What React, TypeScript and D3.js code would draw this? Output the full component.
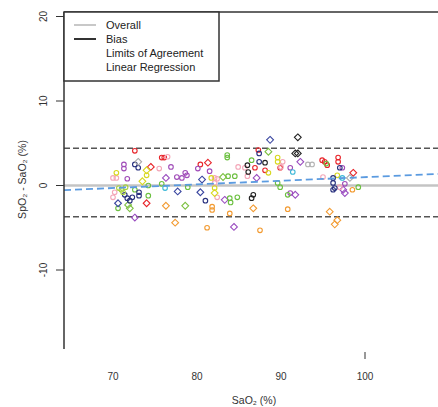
import React from 'react';
import * as d3 from 'd3';

// each subject: [SaO2, difference]
const redCircles = [[72.6, 4.1], [75.8, 3.3], [76.1, 3.3], [87.3, 4.2], [80.4, 2.5], [86.9, 2.1], [88.1, 1.8], [89.9, 2.1], [94.9, 3.0], [95.2, 2.8], [95.5, 2.4], [96.8, 3.3], [96.8, 2.8]];
const redDiamonds = [[74.5, 2.2], [74.0, -2.1], [81.3, 2.7], [98.6, 1.5]];
const purpleCircles = [[71.3, 2.5], [71.3, 2.0], [71.7, 0.8], [76.9, 2.2], [77.6, 1.0], [80.1, 2.0], [78.2, 0.9], [78.8, 1.2], [81.5, 1.7], [78.6, 1.5], [91.1, 2.1], [97.3, 2.1], [97.6, 0.2], [91.1, -0.9]];
const purpleDiamonds = [[76.3, 0.9], [72.6, -3.8], [87.1, 0.9], [83.3, -1.7], [84.4, -4.9], [92.3, 2.8], [97.4, -0.5], [97.6, -0.9], [91.7, -1.1]];
const pinkCircles = [[70.0, 0.9], [70.4, 0.9], [76.5, 3.4], [75.5, 2.0], [70.0, -1.4], [70.2, -0.8], [82.1, 0.9], [82.1, 0.3], [84.9, 2.2], [85.7, 2.1], [86.0, 1.1], [82.4, -1.4], [90.2, 2.8], [90.0, 2.2], [95.0, 1.0], [97.0, -0.2], [82.4, 0.8]];
const yellowCircles = [[70.4, 1.5], [74.0, 1.2], [81.7, 0.9], [82.1, -0.3], [89.6, 3.3], [89.6, 2.8], [88.5, 1.5], [96.7, 1.2]];
const yellowDiamonds = [[74.0, 1.8], [73.5, 0.5], [82.1, -0.9]];
const greenCircles = [[75.8, 0.2], [72.6, -0.5], [74.2, -1.2], [70.6, -2.7], [74.2, 0.0], [83.6, 3.6], [83.6, 3.3], [83.7, 1.1], [84.5, 1.1], [86.5, 3.0], [78.9, -0.2], [83.9, -1.5], [84.8, -1.4], [95.4, 2.6], [99.2, -0.2], [89.9, -0.2], [89.6, 0.3], [90.8, -1.1], [84.0, -2.0]];
const greenDiamonds = [[71.8, -2.3], [72.0, -2.7], [83.1, 1.0], [78.6, -2.4], [88.5, 4.0]];
const navyCircles = [[72.6, 2.5], [73.0, 2.1], [73.1, -0.8], [73.1, -1.2], [71.4, -1.1], [71.7, -1.5], [72.0, -1.8], [72.3, -1.4], [87.4, 3.8], [87.4, 2.8], [81.0, -1.8], [97.0, 2.1], [96.2, 0.9], [96.2, 0.3], [96.4, -0.3], [96.2, -0.5]];
const navyDiamonds = [[77.7, -0.7], [70.6, -2.1], [88.7, 5.4], [80.6, 0.7], [80.4, -0.8]];
const grayDiamonds = [[73.0, 2.8], [98.2, 0.9]];
const grayCircles = [[93.2, 2.5], [93.7, 2.5]];
const blackCircles = [[86.0, 2.4], [86.1, 1.6], [86.7, -1.1], [86.5, -1.5], [88.1, 2.7]];
const blackDiamonds = [[92.0, 5.7], [91.7, 3.8], [92.0, 3.8]];
const orangeCircles = [[81.8, -2.5], [81.8, -2.9], [83.9, -3.3], [81.2, -5.0], [87.5, -5.3], [90.8, -2.8], [98.5, -0.5]];
const orangeDiamonds = [[76.3, -2.4], [77.4, -4.4], [86.7, -2.7], [95.8, -3.1], [96.7, -4.1], [96.4, -4.6]];
const cyanCircles = [[76.2, -0.3], [91.4, 1.6], [97.3, 0.9]];
const limeCircles = [[70.7, -0.3], [71.0, -0.5], [71.2, -0.8], [71.5, -0.2]];

const subjects = [
  { pts: redCircles, color: '#e8242a', shape: 'c' },
  { pts: redDiamonds, color: '#e8242a', shape: 'd' },
  { pts: purpleCircles, color: '#a04cb8', shape: 'c' },
  { pts: purpleDiamonds, color: '#9a4cc0', shape: 'd' },
  { pts: pinkCircles, color: '#f4a6b8', shape: 'c' },
  { pts: yellowCircles, color: '#d8d820', shape: 'c' },
  { pts: yellowDiamonds, color: '#d8d820', shape: 'd' },
  { pts: greenCircles, color: '#6cc040', shape: 'c' },
  { pts: greenDiamonds, color: '#7cc040', shape: 'd' },
  { pts: navyCircles, color: '#28307e', shape: 'c' },
  { pts: navyDiamonds, color: '#3a46a0', shape: 'd' },
  { pts: grayDiamonds, color: '#a8a8a8', shape: 'd' },
  { pts: grayCircles, color: '#b4b4b4', shape: 'c' },
  { pts: blackCircles, color: '#222222', shape: 'c' },
  { pts: blackDiamonds, color: '#222222', shape: 'd' },
  { pts: orangeCircles, color: '#f29a30', shape: 'c' },
  { pts: orangeDiamonds, color: '#f29a30', shape: 'd' },
  { pts: cyanCircles, color: '#3cb8d8', shape: 'c' },
  { pts: limeCircles, color: '#a8d040', shape: 'c' },
];

const overallLine = 0;
const limitsOfAgreement = [4.4, -3.7];
const regression = { intercept: -0.3, slope: 0.043 }; // at SaO2 = 70
const yTicks = [20, 10, 0, -10];
const xTickLabels = [70, 80, 90, 100];
const xTickMarks = [100];
const legendLabels = ['Overall', 'Bias', 'Limits of Agreement', 'Linear Regression'];

const W = 438, H = 407;
const left = 64, top = 12, bottom = 349, right = 444;

export default function App() {
  const x = d3.scaleLinear().domain([70, 100]).range([113, 365]);
  const y = d3.scaleLinear().domain([0, 10]).range([185.5, 101]);
  const [x0, x1] = [x.invert(left), x.invert(right)];
  const regLine = d3.line<number>()
    .x(d => x(d))
    .y(d => y(regression.intercept + regression.slope * (d - 70)));

  return (
    <div style={{ position: 'absolute', left: 0, top: 0 }}>
      <svg width={W} height={H} style={{ display: 'block', fontFamily: 'Liberation Sans, Arial, sans-serif' }}>
        <rect width={W} height={H} fill="#fff" />
        <defs>
          <clipPath id="plot"><rect x={left} y={top} width={right - left} height={bottom - top} /></clipPath>
        </defs>

        <g clipPath="url(#plot)">
          <line x1={left} x2={right} y1={y(overallLine)} y2={y(overallLine)} stroke="#c4c4c4" strokeWidth={2.5} />
          {limitsOfAgreement.map((v, i) => (
            <line key={i} x1={left} x2={right} y1={y(v)} y2={y(v)} stroke="#555" strokeWidth={1.6} strokeDasharray="6,3" />
          ))}
          {subjects.map((s, i) => (
            <g key={i} stroke={s.color} fill="none" strokeWidth={1.1}>
              {s.pts.map((p, j) => {
                const cx = x(p[0]), cy = y(p[1]);
                return s.shape === 'd'
                  ? <path key={j} d={`M${cx},${cy - 3.4}L${cx + 3.4},${cy}L${cx},${cy + 3.4}L${cx - 3.4},${cy}Z`} />
                  : <circle key={j} cx={cx} cy={cy} r={2.3} />;
              })}
            </g>
          ))}
          <path d={regLine([x0, x1]) || ''} stroke="#5b9be0" strokeWidth={1.8} fill="none" strokeDasharray="7,4" />
        </g>

        {/* frame */}
        <line x1={left} x2={left} y1={top} y2={bottom} stroke="#333" strokeWidth={1.5} />
        <line x1={left} x2={W} y1={top} y2={top} stroke="#333" strokeWidth={1.5} />

        {/* y axis */}
        {yTicks.map(t => (
          <g key={t}>
            <line x1={left - 8} x2={left} y1={y(t)} y2={y(t)} stroke="#333" strokeWidth={1} />
            <text transform={`translate(${left - 17},${y(t)}) rotate(-90)`} textAnchor="middle" fontSize={10} fill="#333">{t}</text>
          </g>
        ))}
        <text transform={`translate(26,${y(0) - 6}) rotate(-90)`} textAnchor="middle" fontSize={10.5} fill="#333">SpO₂ - SaO₂ (%)</text>

        {/* x axis */}
        {xTickMarks.map(t => (
          <line key={t} x1={x(t)} x2={x(t)} y1={352} y2={359} stroke="#333" strokeWidth={1} />
        ))}
        {xTickLabels.map(t => (
          <text key={t} x={x(t)} y={380} textAnchor="middle" fontSize={10} fill="#333">{t}</text>
        ))}
        <text x={254} y={404} textAnchor="middle" fontSize={10.5} fill="#333">SaO₂ (%)</text>

        {/* legend */}
        <rect x={left} y={top} width={155} height={69} fill="#fff" stroke="#333" strokeWidth={1.5} />
        <line x1={74} x2={96} y1={25} y2={25} stroke="#c8c8c8" strokeWidth={2} />
        <line x1={74} x2={96} y1={39} y2={39} stroke="#333" strokeWidth={2} />
        {legendLabels.map((l, i) => (
          <text key={l} x={106} y={25 + i * 14} dy="0.35em" fontSize={11} fill="#222">{l}</text>
        ))}
      </svg>
    </div>
  );
}
